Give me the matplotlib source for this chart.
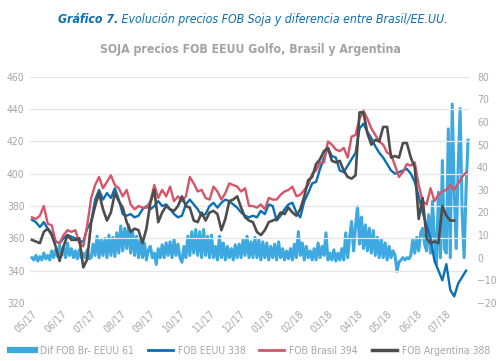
import numpy as np
import matplotlib
matplotlib.use("Agg")
from matplotlib import pyplot as plt
from matplotlib.lines import Line2D

plt.rcParams['font.family'] = ['DejaVu Sans']
plt.rcParams['font.stretch'] = 'condensed'

# precios FOB (USD/t), una muestra cada ~4 px del original
fob_brasil = [373, 372, 374, 380, 369, 368, 358, 357, 362, 365, 364, 365, 357, 355, 368,
              385, 393, 398, 391, 395, 399, 393, 391, 386, 390, 381, 378, 380, 379, 379,
              383, 393, 385, 390, 386, 392, 383, 386, 383, 386, 398, 394, 389, 390, 385,
              384, 392, 389, 384, 388, 394, 393, 392, 389, 391, 380, 380, 379, 381, 378,
              385, 384, 384, 387, 389, 390, 392, 386, 387, 390, 393, 400, 402, 407, 407,
              420, 418, 415, 414, 416, 410, 423, 424, 434, 439, 434, 428, 424, 420, 418,
              413, 412, 405, 398, 401, 406, 405, 407, 393, 383, 381, 391, 383, 387, 389,
              390, 393, 390, 394, 398, 401]
fob_eeuu = [371.5, 370, 367, 370, 366, 363, 358, 357, 360, 362, 361, 360, 358, 358, 366,
            370, 384, 390, 384, 388, 385, 391, 384, 375, 374, 375, 373, 374, 378, 380,
            378, 380, 383, 380, 381, 378, 375, 373, 374, 381, 384, 381, 378, 374, 375,
            380, 382, 379, 382, 384, 383, 381, 379, 376, 374, 373, 374, 373, 377, 375,
            381, 380, 371, 374, 378, 381, 382, 376, 373, 383, 388, 394, 395, 403, 410,
            416, 411, 410, 402, 401, 405, 409, 413, 428, 431, 426, 422, 417, 413, 410,
            406, 402, 400, 401, 402, 403, 400, 395, 386, 376, 368, 360, 346, 340, 334,
            344, 328, 324, 332, 336, 340]
fob_argentina = [359, 358, 357, 364, 366, 362, 355, 346, 355, 362, 359, 359, 360, 342, 347,
                 370, 380, 388, 378, 371, 376, 388, 383, 379, 370, 364, 366, 365, 357, 366,
                 382, 390, 370, 376, 380, 378, 377, 380, 386, 380, 379, 371, 370, 376, 371,
                 376, 377, 375, 365, 372, 383, 384, 386, 379, 373, 371, 370, 364, 362, 365,
                 370, 371, 372, 376, 375, 379, 376, 374, 378, 386, 396, 398, 406, 409, 414,
                 416, 408, 407, 408, 402, 398, 397, 399, 438, 438, 425, 418, 421, 420, 429,
                 429, 410, 411, 410, 419, 419, 410, 404, 372, 385, 360, 357, 358, 357, 380,
                 374, 371, 371, np.nan, np.nan, np.nan]

# diferencia Brasil - EEUU (eje derecho), una muestra cada ~2 px
dif_br_eeuu = [0, -1, 1, -1.5, 0.5, -1, 2, -0.5, 1, -1, 3, 0, 3.5, 0.5, 5.5, 1, 4.5, 0, 6.5, 1,
               4, 0, 3, -0.5, 3.5, 0, 2, 0, 3.5, -0.5,
               0, 6, 1, 9.5, 0, 8, 1, 8.5, 0, 10, 1, 9, 0.5, 11, 2, 14, 3, 13, 4, 14.5,
               2, 12, 1, 9.5, 0, 8, 0, 6.5, -1, 3.5,
               5, 0, 2, -3, 4, 0, 5.7, 0, 6.6, 1, 7, 0, 8, 1, 6, 0, -2, 5, 0, 9.5,
               1, 11.5, 2, 12.5, 1, 11.5, 0, 12.5, 1, 9.5, 0, 10, 0, 5, -1, 9.5, 0, 6.5, -1, 5,
               0, 4, -1, 5.7, 0, 6, 0, 8, 1, 9.5, 0,
               7, 0, 9, 0, 8, -1, 7, 0, 6.5, -1, 5, 0, 6, -1, 7, 0, 4, -1, 3, -0.5,
               4, -1, 6, 0, 11.5, 1, 6.5, -1, 5, 0, 3, -1, 4, -1, 6.5, 0, 5, 1, 11, -1,
               2, -1, 3.5, -1.5, 2, -1, 4, -1, 11, 0, 9, 16, 3, 14, 22.5, 6, 18, 4, 14.5, 3,
               13, 2, 12, 1, 9, 0, 8, 0, 6.5, -1, 5, 0, 3, 1, -6, -2, -1, 0, -1, 0,
               -0.5, 1, 8, 2, 9, 3, 11, 13, 6, 3, 19, 2, 25, 8, -3, 29, 0, 43, 4, 2,
               57, 0, 68, 30, 4, 40, 66, 20, 0, 30, 52]

tick_labels = ['05/17', '06/17', '07/17', '08/17', '09/17', '10/17', '11/17', '12/17',
               '01/18', '02/18', '03/18', '04/18', '05/18', '06/18', '07/18']

c_dif = '#3DA9E0'
c_eeuu = '#0A6FB5'
c_bra = '#D85468'
c_arg = '#4D4D4D'
c_txt = '#A6A6A6'

fig = plt.figure(figsize=(5, 3.61), dpi=100)
ax = fig.add_axes([0.06, 0.161, 0.88, 0.626])
ax2 = ax.twinx()

x = np.arange(len(fob_brasil))
xd = np.arange(len(dif_br_eeuu)) / 2.0

ax2.plot(xd, dif_br_eeuu, color=c_dif, lw=2.2, zorder=1)
ax.plot(x, fob_eeuu, color=c_eeuu, lw=1.7, zorder=3)
ax.plot(x, fob_brasil, color=c_bra, lw=1.7, zorder=4)
ax.plot(x, fob_argentina, color=c_arg, lw=1.9, zorder=5)

# la serie dif va por debajo
ax.set_zorder(ax2.get_zorder() + 1)
ax.patch.set_visible(False)

ax.set_ylim(320, 460)
ax.set_yticks(range(320, 461, 20))
ax2.set_ylim(-20, 80)
ax2.set_yticks(range(-20, 81, 10))
ax.set_xlim(-0.5, 111)

ax.grid(axis='y', color='#E6E6E6', lw=0.9)
ax.set_axisbelow(True)

ticks = np.arange(len(tick_labels)) * 7.5
ax.set_xticks(ticks)
ax.set_xticklabels(tick_labels, rotation=45, ha='right', rotation_mode='anchor')

for a in (ax, ax2):
    for s in a.spines.values():
        s.set_visible(False)
    a.tick_params(length=0, labelsize=7.5, colors=c_txt)
ax.tick_params(axis='y', pad=4)
ax2.tick_params(axis='y', pad=5)
ax.tick_params(axis='x', pad=4)

# titulo en dos partes (negrita + normal)
t1 = fig.text(0, 0.945, 'Gráfico 7.', fontsize=8.8, color='#0A6FB5',
              fontweight='bold', fontstyle='italic', va='center', ha='left')
t2 = fig.text(0, 0.945, ' Evolución precios FOB Soja y diferencia entre Brasil/EE.UU.',
              fontsize=8.8, color='#0A6FB5', fontstyle='italic', va='center', ha='left')
fig.canvas.draw()
r = fig.canvas.get_renderer()
w1 = t1.get_window_extent(r).width
w2 = t2.get_window_extent(r).width
W = fig.bbox.width
x0 = (W - w1 - w2) / 2 + 3
t1.set_x(x0 / W)
t2.set_x((x0 + w1) / W)

fig.text(0.5, 0.862, 'SOJA precios FOB EEUU Golfo, Brasil y Argentina', fontsize=8.8,
         color='#A3A3A3', fontweight='bold', ha='center', va='center')

handles = [Line2D([], [], color=c_dif, lw=4.5),
           Line2D([], [], color=c_eeuu, lw=2),
           Line2D([], [], color=c_bra, lw=2),
           Line2D([], [], color=c_arg, lw=2.5)]
labels = ['Dif FOB Br- EEUU 61', 'FOB EEUU 338', 'FOB Brasil 394', 'FOB Argentina 388']
leg = fig.legend(handles, labels, loc='lower center', bbox_to_anchor=(0.5, -0.012),
                 ncol=4, frameon=False, fontsize=7.5, handlelength=2.4,
                 columnspacing=1.3, handletextpad=0.5)
for t in leg.get_texts():
    t.set_color(c_txt)

plt.savefig('out.png', dpi=100)
